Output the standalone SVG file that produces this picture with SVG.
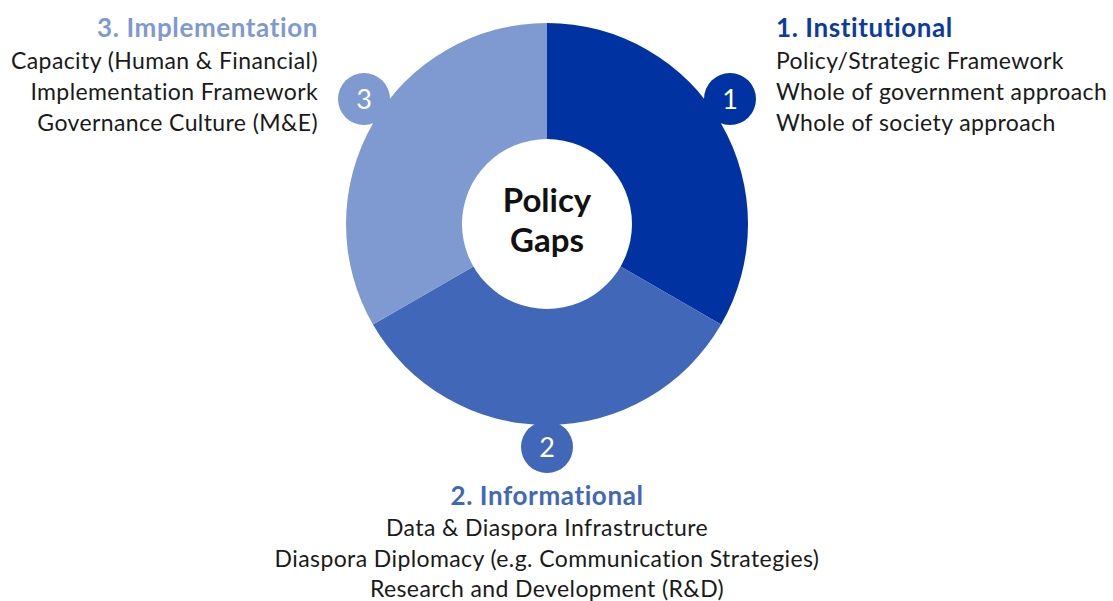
<svg xmlns="http://www.w3.org/2000/svg" width="1113" height="601" viewBox="0 0 1113 601">
<style>
text{font-family:Lato,"Open Sans","Liberation Sans",sans-serif}
.body{font-size:23px;letter-spacing:0.4px;fill:#1a1a1a}
.title{font-size:26px;letter-spacing:0.6px;font-weight:bold}
.num{font-size:27px;fill:#ffffff;text-anchor:middle}
.c1{fill:#0033A1}.c2{fill:#4167B8}.c3{fill:#7F9AD0}
</style>
<rect width="1113" height="601" fill="#ffffff"/>
<g id="seg1">
<path class="c1" d="M547,224 L547,23 A201,201 0 0 1 721.07,324.5 Z"/>
<circle class="c1" cx="730" cy="99" r="26"/>
<text class="num" x="730" y="109">1</text>
<text class="title" x="776" y="37" fill="#0B3BA1">1. Institutional</text>
<text class="body" x="776" y="69">Policy/Strategic Framework</text>
<text class="body" x="776" y="100">Whole of government approach</text>
<text class="body" x="776" y="131">Whole of society approach</text>
</g>
<g id="seg2">
<path class="c2" d="M547,224 L721.07,324.5 A201,201 0 0 1 372.93,324.5 Z"/>
<circle class="c2" cx="547" cy="447" r="26"/>
<text class="num" x="547" y="457">2</text>
<g text-anchor="middle">
<text class="title" x="547" y="505" fill="#4167B8">2. Informational</text>
<text class="body" x="547" y="536">Data &amp; Diaspora Infrastructure</text>
<text class="body" x="547" y="567">Diaspora Diplomacy (e.g. Communication Strategies)</text>
<text class="body" x="547" y="597">Research and Development (R&amp;D)</text>
</g>
</g>
<g id="seg3">
<path class="c3" d="M547,224 L372.93,324.5 A201,201 0 0 1 547,23 Z"/>
<circle class="c3" cx="364" cy="99" r="26"/>
<text class="num" x="364" y="109">3</text>
<g text-anchor="end">
<text class="title" x="318" y="37" fill="#7F9AD0">3. Implementation</text>
<text class="body" x="318" y="69">Capacity (Human &amp; Financial)</text>
<text class="body" x="318" y="100">Implementation Framework</text>
<text class="body" x="318" y="131">Governance Culture (M&amp;E)</text>
</g>
</g>
<g id="center">
<circle cx="547" cy="224" r="85" fill="#ffffff"/>
<g text-anchor="middle" font-size="33" font-weight="bold" fill="#111111">
<text x="547" y="212">Policy</text>
<text x="547" y="252">Gaps</text>
</g>
</g>
<g id="connectors"/>
</svg>
